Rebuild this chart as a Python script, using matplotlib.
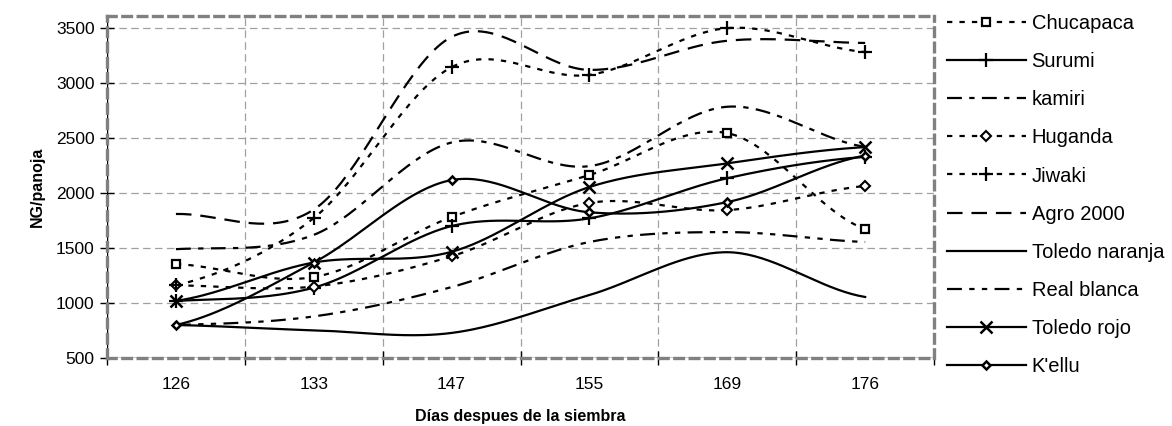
import numpy as np
import matplotlib
matplotlib.use("Agg")
from matplotlib import pyplot as plt
from matplotlib.lines import Line2D

plt.rcParams['font.family'] = ['Liberation Sans', 'DejaVu Sans']

days = ['126', '133', '147', '155', '169', '176']

chucapaca = [1355, 1236, 1782, 2164, 2545, 1673]
surumi = [1020, 1140, 1700, 1770, 2135, 2330]
kamiri = [1490, 1620, 2460, 2245, 2785, 2420]
huganda = [1160, 1150, 1425, 1910, 1845, 2064]
jiwaki = [1160, 1773, 3145, 3075, 3500, 3282]
agro_2000 = [1810, 1850, 3420, 3120, 3385, 3365]
toledo_naranja = [800, 752, 728, 1073, 1462, 1055]
real_blanca = [800, 878, 1145, 1555, 1645, 1555]
toledo_rojo = [1020, 1368, 1466, 2055, 2270, 2418]
kellu = [800, 1368, 2118, 1825, 1918, 2340]

series = [
    ('Chucapaca', chucapaca, (0, (2.4, 3.2)), 's'),
    ('Surumi', surumi, '-', '+'),
    ('kamiri', kamiri, (0, (6.7, 3.3, 2.4, 3.3)), None),
    ('Huganda', huganda, (0, (2.4, 3.2)), 'D'),
    ('Jiwaki', jiwaki, (0, (2.4, 3.2)), '+'),
    ('Agro 2000', agro_2000, (0, (7, 4)), None),
    ('Toledo naranja', toledo_naranja, '-', None),
    ('Real blanca', real_blanca, (0, (6.7, 3.3, 2.4, 3.3, 2.4, 3.3)), None),
    ('Toledo rojo', toledo_rojo, '-', 'x'),
    ("K'ellu", kellu, '-', 'D'),
]

marker_style = {
    'Chucapaca': dict(markersize=6, markerfacecolor='white', markeredgewidth=1.6),
    'Surumi': dict(markersize=10, markeredgewidth=1.6),
    'Huganda': dict(markersize=5.5, markerfacecolor='white', markeredgewidth=1.5),
    'Jiwaki': dict(markersize=10, markeredgewidth=1.6),
    'Toledo rojo': dict(markersize=9, markeredgewidth=1.8),
    "K'ellu": dict(markersize=4.5, markerfacecolor='white', markeredgewidth=1.8),
}


def smooth(y, n=40):
    # Excel-like smoothed line: Catmull-Rom via cubic Bezier segments
    y = np.asarray(y, dtype=float)
    x = np.arange(len(y), dtype=float)
    p = np.concatenate([[y[0]], y, [y[-1]]])
    xs, ys = [], []
    t = np.linspace(0, 1, n, endpoint=False)
    for i in range(len(y) - 1):
        p0, p1 = p[i + 1], p[i + 2]
        c1 = p0 + (p[i + 2] - p[i]) / 6
        c2 = p1 - (p[i + 3] - p[i + 1]) / 6
        b = ((1 - t) ** 3 * p0 + 3 * (1 - t) ** 2 * t * c1
             + 3 * (1 - t) * t ** 2 * c2 + t ** 3 * p1)
        xs.append(x[i] + t)
        ys.append(b)
    xs.append([x[-1]])
    ys.append([y[-1]])
    return np.concatenate(xs), np.concatenate(ys)


fig = plt.figure(figsize=(11.72, 4.26), dpi=100)
ax = fig.add_axes([0.0913, 0.1596, 0.7057, 0.8028])

handles = []
for name, vals, ls, mk in series:
    sx, sy = smooth(vals)
    ax.plot(sx, sy, color='black', lw=1.6, linestyle=ls, zorder=3)
    ms = marker_style.get(name, {})
    if mk:
        ax.plot(range(len(vals)), vals, linestyle='none', marker=mk,
                color='black', zorder=4, **ms)
    handles.append(Line2D([], [], color='black', lw=1.6, linestyle=ls,
                          marker=mk, **ms))

ax.set_xlim(-0.5, len(days) - 0.5)
ax.set_ylim(500, 3610)
ax.set_yticks(range(500, 3501, 500))
ax.set_xticks(range(len(days)))
ax.set_xticklabels(days)
ax.set_xticks(np.arange(-0.5, len(days), 1), minor=True)

ax.tick_params(axis='y', direction='inout', length=10, width=1, labelsize=12.5, pad=4)
ax.tick_params(axis='x', which='major', length=0, labelsize=12.5, pad=14)
ax.tick_params(axis='x', which='minor', direction='inout', length=10, width=1)

ax.grid(axis='y', which='major', color='#a0a0a0', lw=0.9, linestyle=(0, (6, 3.5)))
ax.grid(axis='x', which='minor', color='#a0a0a0', lw=0.9, linestyle=(0, (6, 3.5)))
ax.set_axisbelow(True)

for sp in ax.spines.values():
    sp.set_color('#808080')
    sp.set_linewidth(2.4)
    sp.set_linestyle((0, (2.6, 2)))
ax.axvline(-0.5, color='black', lw=1, zorder=2.5)
ax.axhline(500, color='black', lw=1, zorder=2.5)

ax.set_xlabel('Días despues de la siembra', fontsize=11.5, fontweight='bold', labelpad=12)
ax.set_ylabel('NG/panoja', fontsize=11.5, fontweight='bold', labelpad=8)

fig.legend(handles, [s[0] for s in series], loc='upper left',
           bbox_to_anchor=(947 / 1172, 1 - 14 / 426), frameon=False,
           fontsize=14.5, handlelength=3.9, handletextpad=0.3,
           labelspacing=0.95, borderaxespad=0, borderpad=0)

fig.savefig('out.png', dpi=100)
